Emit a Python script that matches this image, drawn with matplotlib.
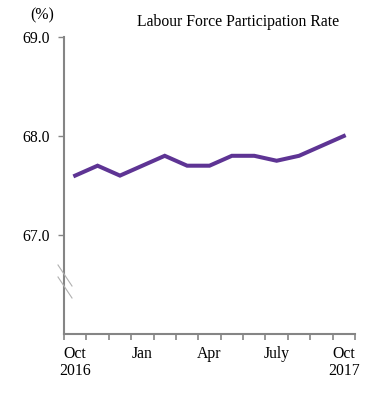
import matplotlib
matplotlib.use("Agg")
import matplotlib.pyplot as plt
from matplotlib.lines import Line2D

months = ["Oct 2016", "Nov", "Dec", "Jan", "Feb", "Mar", "Apr", "May", "Jun",
          "July", "Aug", "Sep", "Oct 2017"]
rate = [67.6, 67.7, 67.6, 67.7, 67.8, 67.7, 67.7, 67.8, 67.8, 67.75, 67.8, 67.9, 68.0]
label_pos = [0, 3, 6, 9, 12]
label_text = ["Oct\n2016", "Jan", "Apr", "July", "Oct\n2017"]
yticks = [67.0, 68.0, 69.0]

plt.rcParams['font.family'] = ['Liberation Serif', 'DejaVu Serif']

W, H = 377, 398
fig = plt.figure(figsize=(W / 100, H / 100), dpi=100)
ax = fig.add_axes([64 / W, (H - 334) / H, (355 - 64) / W, (334 - 37) / H])

x = list(range(len(rate)))
ax.plot(x, rate, color='#5E3494', lw=2.9, solid_joinstyle='miter')

ax.set_xlim(-0.5, len(rate) - 0.5)
ax.set_ylim(66.0, 69.0)

gray = '#858585'
for s in ['top', 'right']:
    ax.spines[s].set_visible(False)
for s in ['left', 'bottom']:
    ax.spines[s].set_color(gray)
    ax.spines[s].set_linewidth(1.5)

ax.set_yticks(yticks)
ax.set_yticklabels([f"{v:.1f}" for v in yticks], fontsize=11.3)
ax.tick_params(axis='y', length=4, width=1, color=gray, pad=6)

ax.set_xticks([i - 0.5 for i in range(len(rate) + 1)])
ax.set_xticklabels([])
ax.tick_params(axis='x', length=4, width=1.2, color=gray)
for p, t in zip(label_pos, label_text):
    ax.text(p, -0.04, t, transform=ax.get_xaxis_transform(), ha='center', va='top',
            fontsize=11.3, linespacing=1.1)

# axis break marks
for y0 in (265, 277):
    fig.add_artist(Line2D([58 / W, 72 / W], [(H - y0) / H, (H - y0 - 21) / H],
                          color='#b0b0b0', lw=0.8))

fig.text(42 / W, (H - 15) / H, "(%)", ha='center', va='center', fontsize=11.3)
fig.text(238 / W, (H - 22) / H, "Labour Force Participation Rate", ha='center',
         va='center', fontsize=11.3)

fig.savefig("out.png", dpi=100)
